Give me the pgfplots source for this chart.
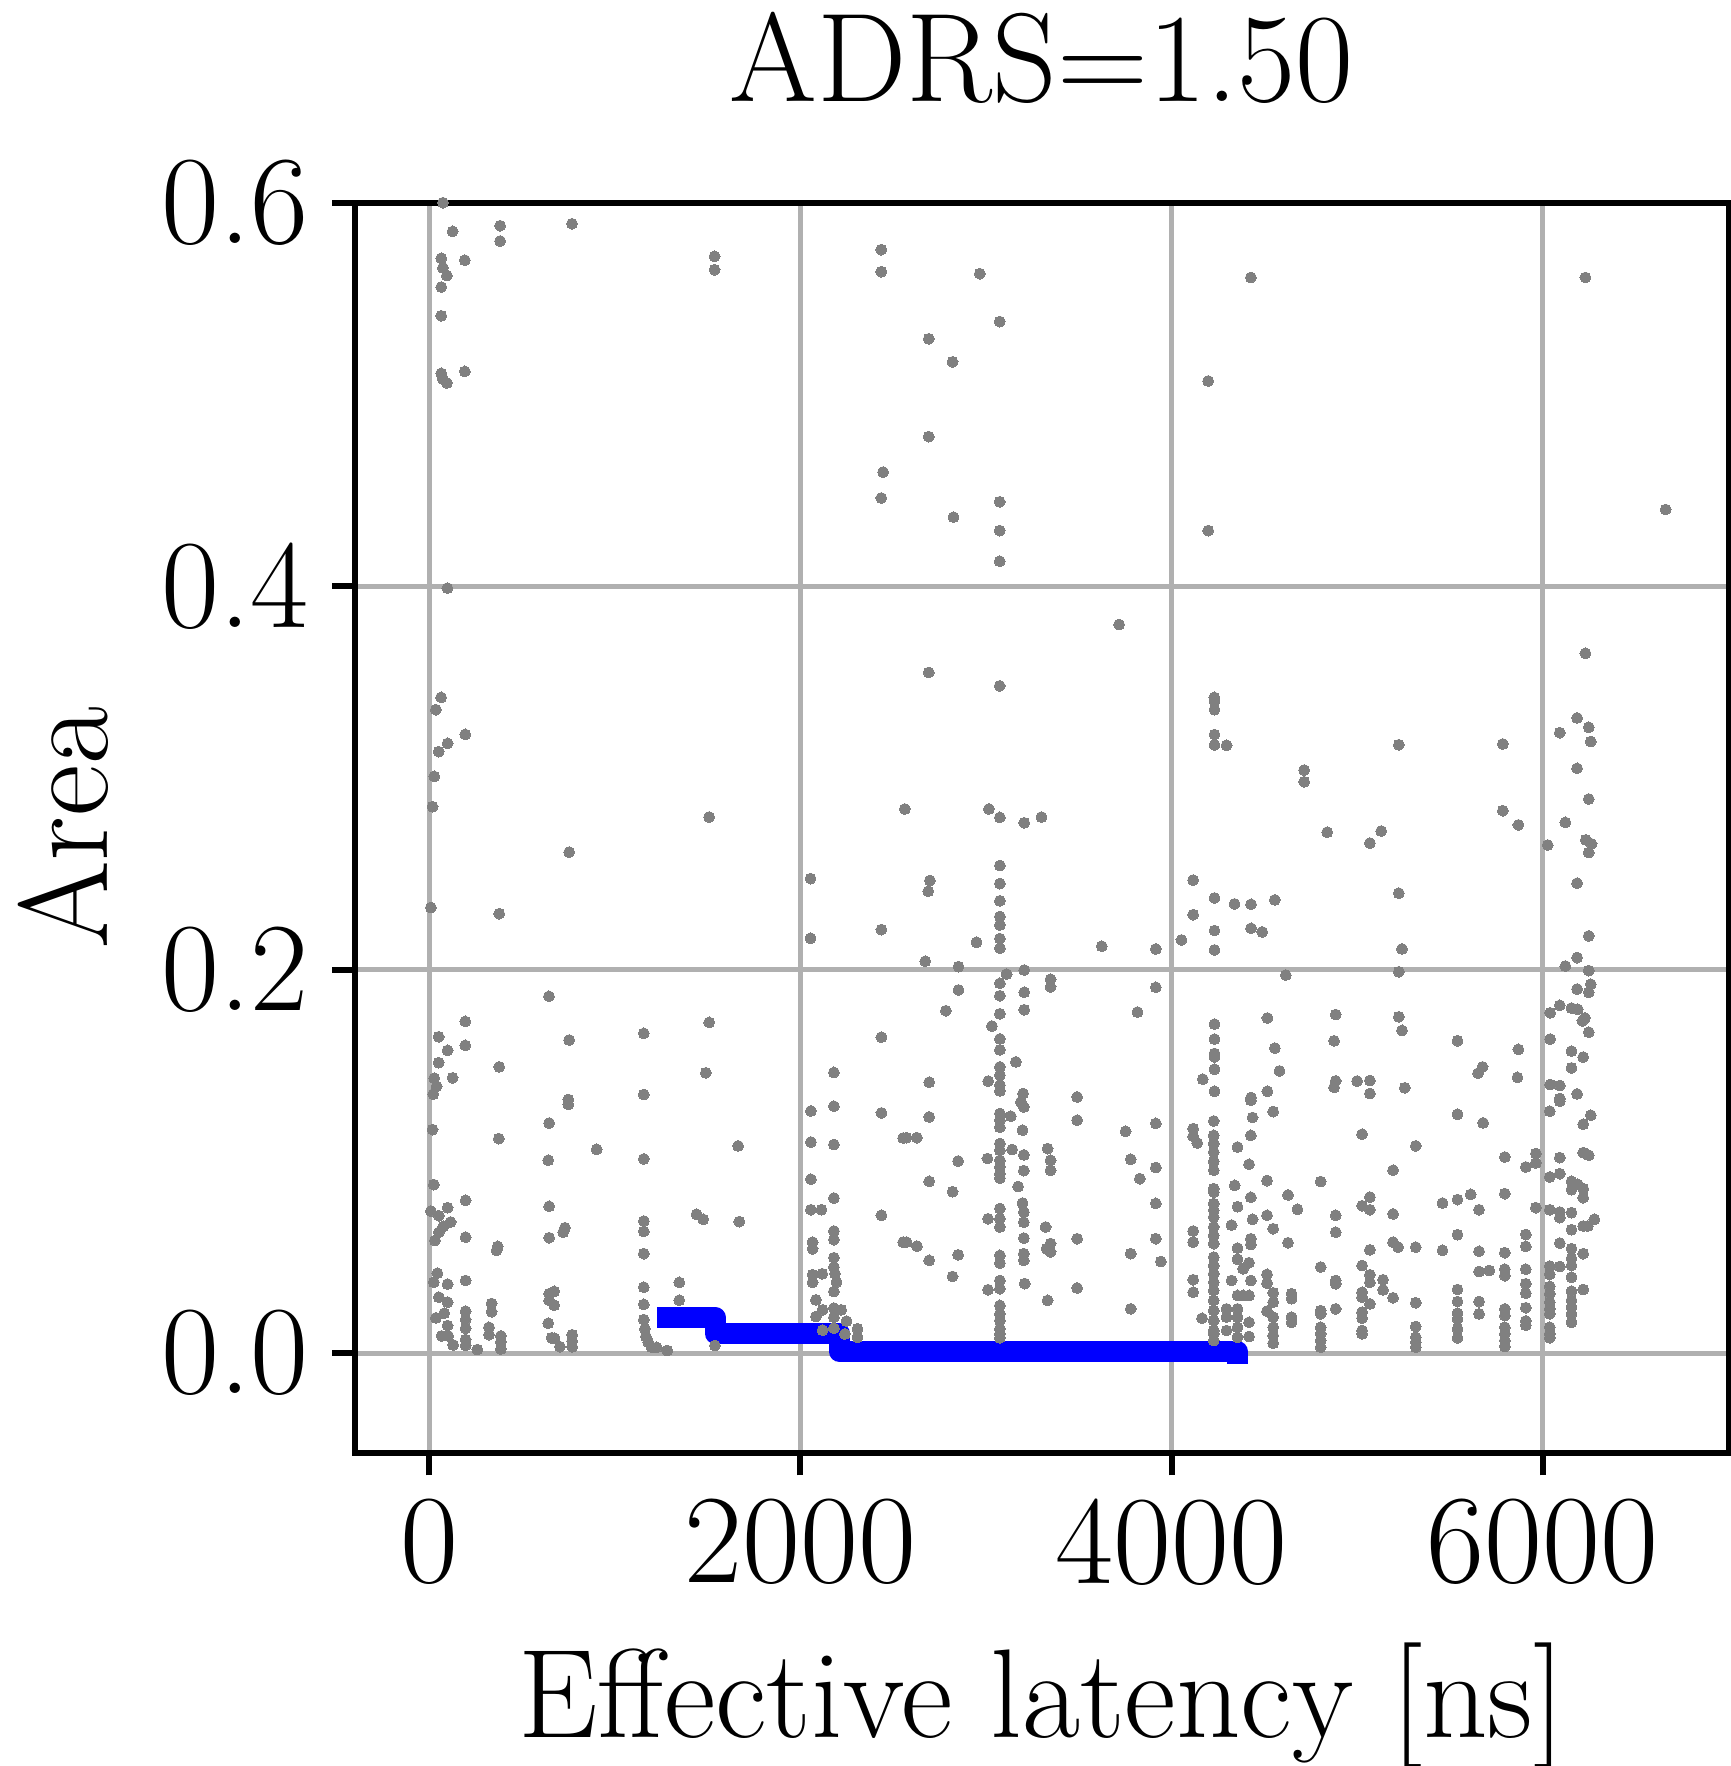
\documentclass[border=0pt]{standalone}
\usepackage{pgfplots}
\pgfplotsset{compat=1.18}
\definecolor{gridc}{RGB}{176,176,176}
\definecolor{ptc}{RGB}{128,128,128}
\begin{document}
\begin{tikzpicture}[font=\fontsize{19}{23}\selectfont]
\begin{axis}[
  at={(0,0)}, anchor=south west,
  scale only axis, width=206.6pt, height=188.0pt,
  xmin=-400, xmax=7000, ymin=-0.052, ymax=0.6,
  xtick={0,2000,4000,6000}, xticklabels={0,2000,4000,6000},
  ytick={0,0.2,0.4,0.6}, yticklabels={0.0,0.2,0.4,0.6},
  tick align=outside, major tick length=3.4pt,
  xtick pos=bottom, ytick pos=left,
  tick style={black, line width=0.9pt},
  axis line style={black, line width=0.9pt},
  grid=major, major grid style={gridc, line width=0.75pt},
  tick label style={font=\fontsize{19}{23}\selectfont},
  every axis title shift=0pt,
  title={ADRS=1.50},
  title style={at={(axis description cs:0.5,1.0809)}, anchor=base, inner sep=0pt},
  xlabel={Effective latency [ns]},
  xlabel style={at={(axis description cs:0.5,-0.2277)}, anchor=base, inner sep=0pt},
  ylabel={Area},
  ylabel style={at={(axis description cs:-0.1803,0.5)}, anchor=base, inner sep=0pt},
]
\addplot[only marks, mark=*, mark size=0.82pt, mark options={fill=ptc, draw=ptc, line width=0pt}] table {
x y
75 0.600
127 0.585
383 0.588
383 0.580
770 0.589
66 0.571
193 0.570
75 0.566
96 0.562
66 0.556
66 0.541
1538 0.572
1538 0.565
66 0.511
193 0.512
75 0.508
96 0.506
2436 0.5755
2436 0.564
2967 0.563
3074 0.538
2692 0.529
2820 0.517
2692 0.478
2446 0.4595
2436 0.446
2825 0.436
3074 0.444
3074 0.429
3074 0.413
99 0.399
2692 0.355
3074 0.348
65 0.342
4427 0.561
6229 0.561
4197 0.507
4197 0.429
6661 0.440
3717 0.380
6229 0.365
4230 0.342
37 0.3356
195 0.3227
100 0.318
52 0.3137
28 0.3008
19 0.285
755 0.2613
10 0.2324
378 0.2292
646 0.1861
195 0.173
52 0.165
755 0.1633
1157 0.1668
100 0.1579
195 0.1605
52 0.1515
378 0.1493
28 0.1434
127 0.1436
41 0.1392
23 0.1351
1157 0.1349
750 0.1323
1509 0.2796
2563 0.2838
3016 0.2838
3075 0.2794
3206 0.2766
3299 0.2796
2055 0.2475
2698 0.2465
2689 0.2409
3075 0.2543
3075 0.2449
3075 0.2359
3075 0.2277
3075 0.2233
3075 0.2162
3075 0.2112
2055 0.2164
2437 0.2209
2949 0.2143
2673 0.2044
2852 0.2016
3111 0.1977
3206 0.1998
2852 0.1894
2784 0.1786
3075 0.1929
3075 0.1864
3075 0.1770
3032 0.1706
3075 0.1639
3075 0.1582
3075 0.1493
3075 0.1450
3075 0.1398
3075 0.1368
3206 0.1882
3206 0.1791
3161 0.1519
3012 0.1419
1509 0.1725
2437 0.1648
1491 0.1462
2181 0.1464
2694 0.1413
3200 0.1354
4231 0.340
4231 0.3356
4231 0.3226
4231 0.3172
4296 0.317
4714 0.3041
4714 0.298
4838 0.2717
5068 0.266
5129 0.2723
4116 0.2467
4231 0.2374
4339 0.2343
4428 0.2341
4556 0.2364
4116 0.2287
4231 0.2204
4428 0.2216
4488 0.2197
4053 0.2155
4231 0.2103
3624 0.2122
3915 0.2108
4615 0.1972
3348 0.195
3348 0.191
3915 0.1908
3816 0.1779
4231 0.1716
4231 0.1638
4231 0.1563
4231 0.1545
4231 0.1481
4168 0.1429
4231 0.1366
4516 0.1748
4556 0.1591
4581 0.1472
4516 0.1366
4428 0.1333
4884 0.1766
4875 0.1629
4884 0.142
4875 0.1386
4999 0.1419
5068 0.1422
5068 0.1354
3491 0.1336
6184 0.3313
6247 0.3264
6091 0.3236
6258 0.319
5224 0.3173
5784 0.3177
6184 0.305
6247 0.289
5784 0.2829
5868 0.2755
6121 0.2768
6026 0.265
6231 0.2677
6262 0.2656
6247 0.2611
6184 0.2451
5224 0.2399
6247 0.2176
5241 0.2108
6184 0.2063
6121 0.2019
5224 0.1989
6247 0.1995
6258 0.1924
6184 0.1899
6247 0.1882
6091 0.1814
6039 0.1775
6154 0.18
6188 0.1793
6226 0.1748
6213 0.1733
6247 0.1674
5224 0.1754
5241 0.1683
5540 0.1629
5868 0.1584
6039 0.1638
6154 0.1575
6217 0.1544
6154 0.1488
5675 0.1493
5651 0.146
5863 0.1438
5256 0.1384
6039 0.1401
6091 0.1396
6184 0.1352
6091 0.1328
750 0.1297
19 0.1166
647 0.12
376 0.1119
903 0.1063
642 0.1006
26 0.0879
197 0.0797
100 0.0759
10 0.0741
53 0.0717
116 0.0684
77 0.0661
53 0.063
32 0.0588
197 0.0605
647 0.0766
732 0.0654
723 0.0631
647 0.0602
370 0.0557
364 0.0536
45 0.0417
26 0.037
100 0.036
197 0.0379
53 0.0292
100 0.0266
82 0.0208
37 0.0184
100 0.0144
68 0.009
103 0.009
130 0.0043
197 0.0219
197 0.0175
197 0.013
197 0.0071
197 0.004
260 0.0019
337 0.0259
337 0.0216
323 0.0135
323 0.0097
387 0.009
387 0.0059
387 0.0022
647 0.031
674 0.0322
647 0.0275
674 0.025
642 0.0156
660 0.008
676 0.0078
705 0.0034
771 0.0096
771 0.0063
771 0.0033
1157 0.1013
1665 0.1081
1157 0.0689
1157 0.0635
1157 0.0519
1441 0.0724
1477 0.0698
1671 0.0686
1348 0.0369
1348 0.0276
1157 0.0344
1157 0.0254
1157 0.0175
1163 0.0127
1168 0.0087
1181 0.0057
1199 0.0031
1226 0.003
1283 0.0014
1540 0.004
2057 0.1263
2181 0.1288
2437 0.1253
2554 0.1122
2057 0.1101
2181 0.1088
2057 0.0907
2181 0.0809
2057 0.0748
2114 0.0748
2437 0.0719
2554 0.0579
2181 0.0637
2181 0.0592
2066 0.0579
2066 0.0544
2181 0.0498
2181 0.0449
2187 0.0414
2195 0.037
2181 0.0322
2066 0.0409
2066 0.037
2118 0.0414
2084 0.0278
2120 0.0226
2084 0.0191
2181 0.0235
2220 0.0226
2181 0.0187
2249 0.0167
2308 0.0127
2308 0.0083
2120 0.012
2181 0.013
2240 0.010
2694 0.1232
2628 0.1124
2572 0.1124
2850 0.1002
2694 0.0896
2820 0.0842
2572 0.0579
2628 0.0558
2694 0.0484
2850 0.0513
2820 0.04
3075 0.125
3075 0.1215
3075 0.1178
3134 0.1236
3188 0.131
3204 0.1284
3197 0.1163
3075 0.1093
3075 0.1058
3075 0.1006
3075 0.0971
3075 0.0936
3075 0.0913
3141 0.1062
3204 0.1034
3204 0.0952
3008 0.1015
3173 0.0869
3332 0.1067
3348 0.1006
3348 0.0954
3075 0.0754
3075 0.0701
3075 0.0658
3011 0.0701
3197 0.0783
3204 0.0736
3204 0.0683
3321 0.0658
3491 0.0597
3204 0.06
3348 0.0572
3326 0.0545
3348 0.0528
3204 0.0519
3204 0.0484
3075 0.051
3075 0.047
3075 0.0379
3075 0.0336
3011 0.0331
3209 0.0363
3491 0.034
3332 0.0275
3075 0.0249
3075 0.0205
3075 0.017
3075 0.0127
3075 0.0101
3075 0.008
3491 0.1215
3752 0.1157
3915 0.1198
3780 0.1011
3829 0.091
3915 0.0968
3915 0.0781
3915 0.0597
3780 0.0519
3942 0.0478
3780 0.0231
4116 0.1171
4116 0.1131
4138 0.1096
4227 0.1211
4227 0.1136
4227 0.1093
4227 0.1049
4227 0.1000
4227 0.0954
4227 0.0858
4227 0.0840
4227 0.0780
4227 0.0745
4227 0.0710
4227 0.0658
4227 0.0614
4227 0.0571
4227 0.0501
4227 0.0457
4227 0.0414
4227 0.0370
4227 0.0327
4227 0.0275
4227 0.0222
4227 0.0170
4227 0.0118
4227 0.0066
4227 0.0100
4427 0.1319
4436 0.1229
4547 0.126
4427 0.1136
4355 0.1075
4417 0.0985
4340 0.0875
4514 0.09
4627 0.0825
4678 0.075
4803 0.0895
4427 0.0813
4355 0.0764
4436 0.0698
4323 0.0668
4514 0.0719
4547 0.0649
4627 0.0576
4427 0.0597
4427 0.0567
4116 0.0637
4116 0.0579
4116 0.0383
4116 0.0318
4164 0.0182
4355 0.0548
4355 0.049
4417 0.0472
4385 0.044
4323 0.0379
4427 0.0379
4355 0.0301
4385 0.0301
4417 0.0301
4355 0.0231
4355 0.0188
4355 0.0135
4355 0.0083
4296 0.0231
4296 0.0188
4296 0.0118
4514 0.0411
4514 0.0365
4514 0.0219
4547 0.0315
4547 0.0266
4547 0.0188
4547 0.0135
4547 0.0092
4547 0.0052
4417 0.0161
4417 0.0087
4646 0.031
4646 0.0284
4646 0.0188
4646 0.0161
4803 0.0449
4803 0.0222
4803 0.0205
4803 0.0135
4803 0.0101
4803 0.0066
4803 0.0031
4884 0.0719
4884 0.0631
4884 0.0379
4884 0.0362
4884 0.0231
5026 0.1142
5026 0.0769
5068 0.0814
5068 0.0748
5026 0.0457
5068 0.0409
5068 0.0369
5026 0.0318
5026 0.0292
5068 0.0257
5026 0.0214
5026 0.0183
5026 0.0118
5026 0.0101
5068 0.0539
5193 0.0954
5193 0.0726
5193 0.0579
5220 0.0553
5139 0.0383
5139 0.033
5193 0.0289
5315 0.1081
5315 0.0553
5315 0.0263
5315 0.0139
5315 0.0083
5315 0.0057
5315 0.0031
5459 0.0783
5459 0.0536
5540 0.1246
5678 0.1201
5540 0.0801
5611 0.0828
5656 0.0748
5540 0.0618
5795 0.1023
5795 0.0832
5908 0.0971
5962 0.1041
5962 0.0992
5962 0.0759
6037 0.1262
6091 0.1314
6091 0.102
6037 0.0919
6091 0.0936
6258 0.1241
6217 0.1194
6217 0.1046
6247 0.1032
6154 0.0896
6188 0.088
6217 0.0858
6154 0.0853
6217 0.0811
6037 0.0748
6091 0.0736
6091 0.0707
6154 0.0733
6154 0.0644
6217 0.0663
6242 0.0663
6277 0.0698
5656 0.0531
5795 0.0524
5908 0.0619
5908 0.0557
6091 0.0574
6154 0.0545
6217 0.0519
6154 0.0493
6154 0.0457
6154 0.0396
6037 0.0454
6037 0.0411
6091 0.0452
5656 0.0426
5711 0.0431
5795 0.0438
5795 0.0404
5908 0.0438
5908 0.0362
5908 0.0313
5540 0.0332
5540 0.0269
5540 0.0208
5540 0.0179
5540 0.0127
5540 0.008
5656 0.0269
5656 0.0205
5795 0.0231
5795 0.0196
5795 0.0135
5795 0.0101
5795 0.0066
5795 0.0035
5908 0.0237
5908 0.0168
5908 0.0146
6037 0.0348
6037 0.031
6037 0.0266
6037 0.0231
6037 0.0205
6037 0.0135
6037 0.0101
6037 0.008
6217 0.0332
6154 0.0323
6154 0.0275
6154 0.024
6154 0.0205
6154 0.0161
};
\addplot[const plot, color=blue, line width=3.16pt, line cap=rect, line join=round] coordinates {
(1282,0.0186) (1541,0.0102) (2211,0.0008) (4355,0.0)
};
\end{axis}
\pgfresetboundingbox
\path (-53.35pt,-47.09pt) rectangle (206.95pt,218.48pt);
\end{tikzpicture}
\end{document}
